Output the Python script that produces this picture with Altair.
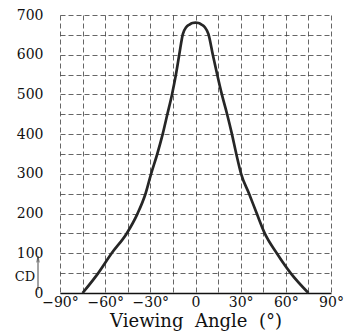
import altair as alt
import pandas as pd

# Curve (viewing angle in degrees, luminous intensity in cd)
angles = [-75, -64.6, -55.7, -45.7, -38.5, -33.2, -29.5, -25.4, -21.8, -18.7, -15.6,
          -13.0, -10.8, -8.4, -6.2, -4.0, -2.0, 0, 2.0, 4.0, 6.2, 8.6, 11.5, 14.4,
          17.5, 21.0, 24.2, 27.1, 30.3, 35.6, 40.7, 46.0, 54.0, 63.2, 75]
values = [0, 50, 100, 150, 200, 250, 300, 350, 400, 450, 500,
          550, 600, 652, 669, 676, 680, 681, 680, 676, 669, 652, 600, 550,
          500, 450, 400, 350, 300, 250, 200, 150, 100, 50, 0]

x_ticks = list(range(-90, 91, 15))
y_ticks = list(range(0, 701, 50))

unit_label = ["CD"]
arrow_from = [8]
arrow_to = [90]

FONT = "DejaVu Serif"

df = pd.DataFrame({"angle": angles, "cd": values})

xscale = alt.Scale(domain=[-90, 90], nice=False, zero=False)
yscale = alt.Scale(domain=[0, 700], nice=False)

x_label_expr = ("datum.value % 30 == 0 ? (datum.value == 0 ? '0' : "
                "(datum.value < 0 ? '\u2212' + abs(datum.value) + '\u00b0' : datum.value + '\u00b0')) : ''")

xaxis = alt.Axis(values=x_ticks, labelExpr=x_label_expr,
                 title="Viewing\u00a0\u00a0Angle\u00a0\u00a0(\u00b0)",
                 grid=True, ticks=False, domain=True,
                 domainColor="#111", domainWidth=1.6,
                 labelFont=FONT, labelFontSize=14, labelColor="#111",
                 labelPadding=2, labelFlush=False, labelOverlap=False,
                 titleFont=FONT, titleFontSize=18, titleFontWeight="normal",
                 titleColor="#111", titlePadding=3)
yaxis = alt.Axis(values=y_ticks,
                 labelExpr="datum.value % 100 == 0 ? datum.label : ''",
                 title=None, grid=True, ticks=False, domain=False,
                 labelFont=FONT, labelFontSize=14, labelColor="#111",
                 labelPadding=17, labelFlush=False, labelOverlap=False)

line = alt.Chart(df).mark_line(
    color="#262626", strokeWidth=2.7, interpolate="monotone"
).encode(
    x=alt.X("angle:Q", scale=xscale, axis=xaxis),
    y=alt.Y("cd:Q", scale=yscale, axis=yaxis),
)

ann_df = pd.DataFrame({"angle": [-90], "cd": [40], "t": unit_label,
                       "y1": arrow_from, "y2": arrow_to})

cd_text = alt.Chart(ann_df).mark_text(
    font=FONT, fontSize=13, color="#111", dx=-35, align="center", baseline="middle"
).encode(x=alt.X("angle:Q", scale=xscale, axis=xaxis),
         y=alt.Y("cd:Q", scale=yscale, axis=yaxis), text="t:N")

arrow_line = alt.Chart(ann_df).mark_rule(
    color="#333", strokeWidth=0.9, xOffset=-22
).encode(x=alt.X("angle:Q", scale=xscale, axis=xaxis),
         y=alt.Y("y1:Q", scale=yscale, axis=yaxis),
         y2=alt.Y2("y2:Q"))

arrow_head = alt.Chart(ann_df).mark_point(
    shape="M-0.4,1 L0,-1 L0.4,1", filled=False, color="#333", strokeWidth=0.9,
    size=40, xOffset=-22, yOffset=2
).encode(x=alt.X("angle:Q", scale=xscale, axis=xaxis),
         y=alt.Y("y2:Q", scale=yscale, axis=yaxis))

chart = alt.layer(line, cd_text, arrow_line, arrow_head).properties(
    width=271, height=278,
    autosize=alt.AutoSizeParams(type="none"),
    padding={"left": 52, "top": 7, "right": 14, "bottom": 40},
    background="white",
).configure_axis(
    gridColor="#333", gridOpacity=0.75, gridDash=[5, 3], gridWidth=1,
).configure_view(stroke=None)

chart.save("out.html", embed_options={"renderer": "svg", "actions": False})
